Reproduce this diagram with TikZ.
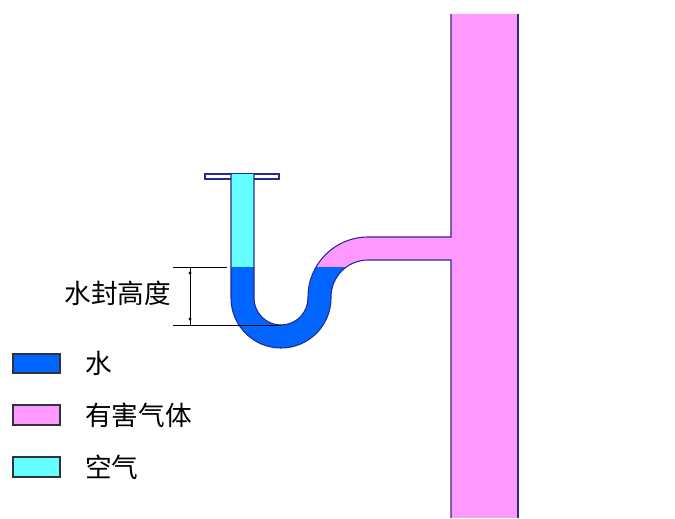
\documentclass[tikz,border=0pt]{standalone}
\usepackage{fontspec}
\newfontfamily\cjk{Noto Sans CJK SC}
\definecolor{water}{RGB}{0,102,255}
\definecolor{gas}{RGB}{255,153,255}
\definecolor{air}{RGB}{102,255,255}
\definecolor{pipeline}{RGB}{40,40,150}
\definecolor{keyline}{RGB}{50,50,60}
\begin{document}
\begin{tikzpicture}[x=0.75pt,y=-0.75pt,
  outline/.style={draw=pipeline, line width=0.8pt},
  dimline/.style={draw=black, line width=0.7pt},
  txt/.style={font=\cjk\fontsize{20}{24}\selectfont, inner sep=0pt},
  keybox/.style={draw=keyline, line width=0.8pt}]
\useasboundingbox (0,0) rectangle (675,518);
\fill[white] (0,0) rectangle (675,518);

% vent stack
\fill[gas] (451,14) rectangle (518,518);

% flange at the floor drain
\filldraw[fill=white, outline] (205,174) rectangle (279,179);

% contents of the S-trap and branch pipe
\begin{scope}
  \clip (231,174) -- (231,298) arc[start angle=180,end angle=0,radius=50]
    -- (331,297) arc[start angle=180,end angle=270,radius=37]
    -- (452,260) -- (452,237) -- (368,237)
    arc[start angle=270,end angle=180,radius=60]
    -- (308,298) arc[start angle=0,end angle=180,radius=27]
    -- (254,174) -- cycle;
  \fill[air] (220,170) rectangle (281,267);
  \fill[gas] (281,200) rectangle (460,267);
  \fill[water] (220,267) rectangle (460,360);
\end{scope}

% pipe walls
\draw[outline] (231,174) -- (231,298) arc[start angle=180,end angle=0,radius=50]
  -- (331,297) arc[start angle=180,end angle=270,radius=37]
  -- (451,260) -- (451,518);
\draw[outline] (254,174) -- (254,298) arc[start angle=180,end angle=0,radius=27]
  -- (308,297) arc[start angle=180,end angle=270,radius=60]
  -- (451,237) -- (451,14);
\draw[outline] (518,14) -- (518,518);

% seal depth dimension
\coordinate (dimA) at (173,267);
\coordinate (dimB) at (227,267);
\coordinate (dimC) at (173,325);
\coordinate (dimD) at (281,325);
\coordinate (dimT) at (190,267);
\coordinate (dimU) at (190,325);
\draw[dimline] (dimA) -- (dimB);
\draw[dimline] (dimC) -- (dimD);
\draw[dimline] (dimT) -- (dimU);
\fill (190,273) circle[radius=1.6];
\fill (190,319) circle[radius=1.6];
\node[txt] (sealtext) at (118,293) {水封高度};

% legend
\filldraw[keybox, fill=water] (13,354) rectangle (60,373);
\filldraw[keybox, fill=gas] (13,405) rectangle (60,425);
\filldraw[keybox, fill=air] (13,457) rectangle (60,477);
\node[txt, anchor=west] (keywater) at (85,363) {水};
\node[txt, anchor=west] (keygas) at (85,415) {有害气体};
\node[txt, anchor=west] (keyair) at (85,467) {空气};
\end{tikzpicture}
\end{document}
